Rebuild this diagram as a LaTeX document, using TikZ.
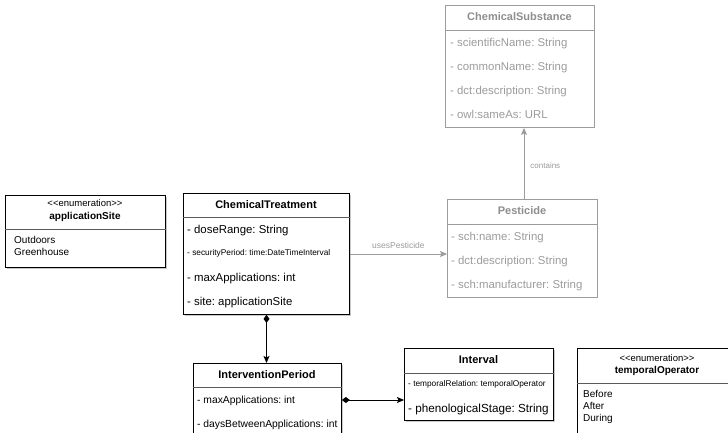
\documentclass[tikz,border=0pt]{standalone}
\usepackage{fontspec}
\setmainfont{Liberation Sans}
\usetikzlibrary{arrows.meta,shadows}

\definecolor{faded}{HTML}{9C9C9C}
\definecolor{fadedtitle}{HTML}{8E8E8E}
\definecolor{sepline}{HTML}{5A5A5A}

\newcommand{\fs}[1]{\fontsize{#1}{#1}\selectfont}
\newcommand{\stereotype}[1]{{<}{<}#1{>}{>}}
\frenchspacing

\tikzset{
  classbox/.style={draw=black, line width=0.9pt, fill=white, anchor=north west,
    inner sep=0pt, drop shadow={shadow xshift=1.3pt, shadow yshift=-1.3pt, opacity=0.35, fill=black!60}},
  fadedbox/.style={draw=faded, line width=0.9pt, fill=white, anchor=north west, inner sep=0pt},
  title/.style={inner sep=0pt, anchor=mid, font=\fs{11}\bfseries},
  fadedtitle/.style={title, text=fadedtitle},
  attr/.style={inner sep=0pt, anchor=mid west, yshift=-0.8pt, font=\fs{11.4}},
  smallattr/.style={inner sep=0pt, anchor=mid west, font=\fs{8.3}},
  fadedattr/.style={attr, text=faded},
  stereo/.style={inner sep=0pt, anchor=mid, font=\fs{9.5}},
  enumtitle/.style={inner sep=0pt, anchor=mid, font=\fs{10}\bfseries},
  literal/.style={inner sep=0pt, anchor=mid west, font=\fs{10}},
  linklabel/.style={inner sep=0pt, text=faded},
  sep/.style={draw=sepline, line width=0.8pt},
  fadedsep/.style={draw=faded, line width=0.8pt},
  assoc/.style={draw=faded, line width=0.9pt, -{Stealth[length=7pt,width=6pt,inset=1.5pt]}},
  compose/.style={draw=black, line width=0.9pt,
    {Diamond[length=8pt,width=6pt]}-{Stealth[length=7pt,width=6pt,inset=1.5pt]}},
}

\begin{document}
\begin{tikzpicture}[x=1pt,y=-1pt]
\useasboundingbox (0,0) rectangle (728,433);
\clip (0,0) rectangle (728,433);
\fill[white] (0,0) rectangle (728,433);

% ---- ChemicalSubstance ----
\node[fadedbox, minimum width=149pt, minimum height=122pt] (cs) at (445,5) {};
\draw[fadedsep] (cs.west |- 0,30) -- (cs.east |- 0,30);
\node[fadedtitle] (cs-t) at (519.5,18) {ChemicalSubstance};
\node[fadedattr] (cs-a1) at (450,43) {- scientificName: String};
\node[fadedattr] (cs-a2) at (450,67) {- commonName: String};
\node[fadedattr] (cs-a3) at (450,91) {- dct:description: String};
\node[fadedattr] (cs-a4) at (450,115) {- owl:sameAs: URL};

% ---- Pesticide ----
\node[fadedbox, minimum width=150pt, minimum height=98pt] (pest) at (447,199) {};
\draw[fadedsep] (pest.west |- 0,224) -- (pest.east |- 0,224);
\node[fadedtitle] (pest-t) at (522,212) {Pesticide};
\node[fadedattr] (pest-a1) at (451,237) {- sch:name: String};
\node[fadedattr] (pest-a2) at (451,261) {- dct:description: String};
\node[fadedattr] (pest-a3) at (451,285) {- sch:manufacturer: String};

% ---- applicationSite ----
\node[classbox, minimum width=160pt, minimum height=72pt] (site) at (5,195) {};
\draw[sep] (site.west |- 0,229) -- (site.east |- 0,229);
\node[stereo] (site-s) at (85,204) {\stereotype{enumeration}};
\node[enumtitle] (site-t) at (85,217) {applicationSite};
\node[literal] (site-l1) at (14,241) {Outdoors};
\node[literal] (site-l2) at (14,253) {Greenhouse};

% ---- ChemicalTreatment ----
\node[classbox, minimum width=166pt, minimum height=121pt] (ct) at (183,193) {};
\draw[sep] (ct.west |- 0,217) -- (ct.east |- 0,217);
\node[title] (ct-t) at (266,206) {ChemicalTreatment};
\node[attr] (ct-a1) at (187,230) {- doseRange: String};
\node[smallattr] (ct-a2) at (187,253) {- securityPeriod: time:DateTimeInterval};
\node[attr] (ct-a3) at (187,278) {- maxApplications: int};
\node[attr] (ct-a4) at (187,302) {- site: applicationSite};

% ---- InterventionPeriod ----
\node[classbox, minimum width=148pt, minimum height=90pt] (ip) at (193,363) {};
\draw[sep] (ip.west |- 0,387) -- (ip.east |- 0,387);
\node[title] (ip-t) at (267,376) {InterventionPeriod};
\node[attr, font=\fs{10.3}] (ip-a1) at (197,400) {- maxApplications: int};
\node[attr, font=\fs{10.3}] (ip-a2) at (197,424) {- daysBetweenApplications: int};

% ---- Interval ----
\node[classbox, minimum width=149pt, minimum height=72pt] (int) at (404,348) {};
\draw[sep] (int.west |- 0,373) -- (int.east |- 0,373);
\node[title] (int-t) at (478.5,361) {Interval};
\node[smallattr] (int-a1) at (408,384) {- temporalRelation: temporalOperator};
\node[attr, font=\fs{11.7}] (int-a2) at (408,409) {- phenologicalStage: String};

% ---- temporalOperator ----
\node[classbox, minimum width=162pt, minimum height=100pt] (op) at (577,348) {};
\draw[sep] (op.west |- 0,383) -- (op.east |- 0,383);
\node[stereo] (op-s) at (657,359) {\stereotype{enumeration}};
\node[enumtitle] (op-t) at (657,371) {temporalOperator};
\node[literal] (op-l1) at (583,395) {Before};
\node[literal] (op-l2) at (583,407) {After};
\node[literal] (op-l3) at (583,419) {During};

% ---- connectors ----
\draw[assoc] (ct.east |- 0,254) -- (pest.west |- 0,254)
  node[linklabel, font=\fs{8.5}, midway, above=5pt] {usesPesticide};
\draw[assoc] (pest.north -| 524,0) -- (cs.south -| 524,0)
  node[linklabel, font=\fs{8}, pos=0.47, right=6pt] {contains};
\draw[compose] (ct.south -| 266.5,0) -- (ip.north -| 266.5,0);
\draw[compose] (ip.east |- 0,400) -- (int.west |- 0,400);
\end{tikzpicture}
\end{document}
